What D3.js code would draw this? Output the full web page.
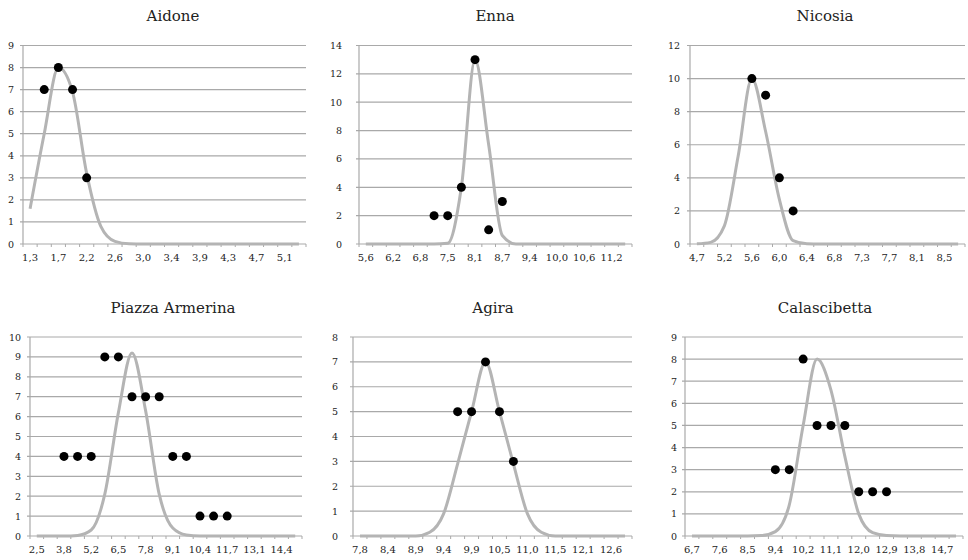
<!DOCTYPE html>
<html>
<head>
<meta charset="utf-8">
<script src="https://cdn.jsdelivr.net/npm/d3@7"></script>
<style>
  body { margin: 0; background: #fff; }
  text { font-family: "DejaVu Serif", "Liberation Serif", serif; fill: #222; }
</style>
</head>
<body>
<script>
const WIDTH = 968
const HEIGHT = 560

// ------- Données (20 classes par graphique, une étiquette sur deux) -------
const aidoneLabels = ["1,3", "1,7", "2,2", "2,6", "3,0", "3,4", "3,9", "4,3", "4,7", "5,1"]
const aidoneCurve = [1.6, 5.0, 8.0, 6.9, 3.2, 0.8, 0.12, 0.01, 0, 0, 0, 0, 0, 0, 0, 0, 0, 0, 0, 0]
const aidonePoints = [null, 7, 8, 7, 3, null, null, null, null, null, null, null, null, null, null, null, null, null, null, null]

const ennaLabels = ["5,6", "6,2", "6,8", "7,5", "8,1", "8,7", "9,4", "10,0", "10,6", "11,2"]
const ennaCurve = [0, 0, 0, 0, 0, 0, 0.05, 4.0, 13, 7.0, 0.6, 0, 0, 0, 0, 0, 0, 0, 0, 0]
const ennaPoints = [null, null, null, null, null, 2, 2, 4, 13, 1, 3, null, null, null, null, null, null, null, null, null]

const nicosiaLabels = ["4,7", "5,2", "5,6", "6,0", "6,4", "6,8", "7,3", "7,7", "8,1", "8,5"]
const nicosiaCurve = [0.01, 0.1, 1.1, 5.3, 10, 6.8, 2.7, 0.2, 0.01, 0, 0, 0, 0, 0, 0, 0, 0, 0, 0, 0]
const nicosiaPoints = [null, null, null, null, 10, 9, 4, 2, null, null, null, null, null, null, null, null, null, null, null, null]

const piazzaLabels = ["2,5", "3,8", "5,2", "6,5", "7,8", "9,1", "10,4", "11,7", "13,1", "14,4"]
const piazzaCurve = [0, 0, 0, 0.03, 0.3, 2.1, 6.2, 9.2, 6.3, 2.1, 0.4, 0.05, 0, 0, 0, 0, 0, 0, 0, 0]
const piazzaPoints = [null, null, 4, 4, 4, 9, 9, 7, 7, 7, 4, 4, 1, 1, 1, null, null, null, null, null]

const agiraLabels = ["7,8", "8,4", "8,9", "9,4", "9,9", "10,5", "11,0", "11,5", "12,1", "12,6"]
const agiraCurve = [0, 0, 0, 0, 0, 0.15, 0.9, 2.9, 5.0, 7.0, 5.0, 2.9, 0.9, 0.15, 0, 0, 0, 0, 0, 0]
const agiraPoints = [null, null, null, null, null, null, null, 5, 5, 7, 5, 3, null, null, null, null, null, null, null, null]

const calaLabels = ["6,7", "7,6", "8,5", "9,4", "10,2", "11,1", "12,0", "12,9", "13,8", "14,7"]
const calaCurve = [0, 0, 0, 0, 0, 0.02, 0.2, 1.4, 5.0, 8.0, 6.6, 3.6, 1.0, 0.15, 0.02, 0, 0, 0, 0, 0]
const calaPoints = [null, null, null, null, null, null, 3, 3, 8, 5, 5, 5, 2, 2, 2, null, null, null, null, null]

// ------- Mise en page -------
const panels = [
  { title: "Aidone", labels: aidoneLabels, curve: aidoneCurve, points: aidonePoints,
    yMax: 9, yStep: 1, x0: 23, x1: 306, y0: 45.5, y1: 244, tx: 173, ty: 21, yLab: 14 },
  { title: "Enna", labels: ennaLabels, curve: ennaCurve, points: ennaPoints,
    yMax: 14, yStep: 2, x0: 359, x1: 632, y0: 45.5, y1: 244, tx: 495, ty: 21, yLab: 342 },
  { title: "Nicosia", labels: nicosiaLabels, curve: nicosiaCurve, points: nicosiaPoints,
    yMax: 12, yStep: 2, x0: 690, x1: 965, y0: 45.5, y1: 244, tx: 825, ty: 21, yLab: 680 },
  { title: "Piazza Armerina", labels: piazzaLabels, curve: piazzaCurve, points: piazzaPoints,
    yMax: 10, yStep: 1, x0: 30, x1: 302, y0: 337, y1: 536, tx: 173, ty: 313, yLab: 21 },
  { title: "Agira", labels: agiraLabels, curve: agiraCurve, points: agiraPoints,
    yMax: 8, yStep: 1, x0: 353, x1: 632, y0: 337, y1: 536, tx: 493, ty: 313, yLab: 338 },
  { title: "Calascibetta", labels: calaLabels, curve: calaCurve, points: calaPoints,
    yMax: 9, yStep: 1, x0: 685, x1: 963, y0: 337, y1: 536, tx: 825, ty: 313, yLab: 677 }
]

const GRID = "#a9a9a9"
const CURVE = "#b4b4b4"

const svg = d3.select("body").append("svg")
  .attr("width", WIDTH)
  .attr("height", HEIGHT)

panels.forEach(p => {
  const g = svg.append("g")
  const n = p.curve.length
  const x = d3.scaleBand().domain(d3.range(n)).range([p.x0, p.x1])
  const cx = i => x(i) + x.bandwidth() / 2
  const y = d3.scaleLinear().domain([0, p.yMax]).range([p.y1, p.y0])
  const yTicks = d3.range(0, p.yMax + 0.001, p.yStep)

  // grille horizontale
  g.selectAll(".grid").data(yTicks).enter().append("line")
    .attr("x1", p.x0 - 3).attr("x2", p.x1)
    .attr("y1", d => y(d)).attr("y2", d => y(d))
    .attr("stroke", GRID).attr("stroke-width", 1.2)

  // axe vertical
  g.append("line")
    .attr("x1", p.x0).attr("x2", p.x0)
    .attr("y1", p.y0).attr("y2", p.y1)
    .attr("stroke", GRID).attr("stroke-width", 1.2)

  // graduations de l'axe horizontal
  g.selectAll(".xt").data(d3.range(n + 1)).enter().append("line")
    .attr("x1", k => p.x0 + k * x.step()).attr("x2", k => p.x0 + k * x.step())
    .attr("y1", p.y1).attr("y2", p.y1 + 3)
    .attr("stroke", GRID).attr("stroke-width", 1)

  // étiquettes Y
  g.selectAll(".yl").data(yTicks).enter().append("text")
    .attr("x", p.yLab)
    .attr("y", d => y(d) + 3.5)
    .attr("text-anchor", "end")
    .attr("font-size", 9.5)
    .text(d => d)

  // étiquettes X (une classe sur deux)
  g.selectAll(".xl").data(p.labels).enter().append("text")
    .attr("x", (d, j) => cx(j * 2))
    .attr("y", p.y1 + 17)
    .attr("text-anchor", "middle")
    .attr("font-size", 10)
    .text(d => d)

  // courbe normale
  const line = d3.line()
    .x((d, i) => cx(i))
    .y(d => y(d))
    .curve(d3.curveMonotoneX)
  g.append("path")
    .datum(p.curve)
    .attr("d", line)
    .attr("fill", "none")
    .attr("stroke", CURVE)
    .attr("stroke-width", 3)

  // points observés
  const pts = p.points.map((v, i) => ({ i, v })).filter(d => d.v !== null)
  g.selectAll(".pt").data(pts).enter().append("circle")
    .attr("cx", d => cx(d.i))
    .attr("cy", d => y(d.v))
    .attr("r", 4.5)
    .attr("fill", "#000")

  // titre
  g.append("text")
    .attr("x", p.tx)
    .attr("y", p.ty)
    .attr("text-anchor", "middle")
    .attr("font-size", 15)
    .text(p.title)
})
</script>
</body>
</html>
